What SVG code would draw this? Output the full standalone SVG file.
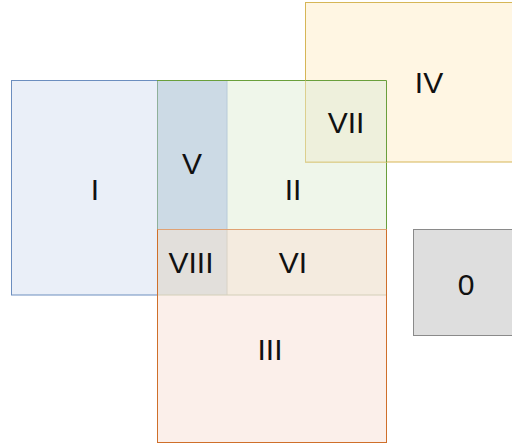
<svg xmlns="http://www.w3.org/2000/svg" width="512" height="446" viewBox="0 0 512 446">
<style>
text{font-family:"Liberation Sans",Arial,sans-serif;font-size:30px;fill:#111;text-anchor:middle}
</style>
<rect x="0" y="0" width="512" height="446" fill="#ffffff"/>
<g id="node-I">
<rect x="11.5" y="80.5" width="146" height="214.5" fill="#eaeff8" stroke="#6c8ebf"/>
<text x="95" y="200">I</text>
</g>
<g id="node-II">
<rect x="157.5" y="80.5" width="229" height="149" fill="#eff6ea" stroke="#6a9f3c"/>
<text x="293" y="200">II</text>
</g>
<g id="node-V">
<rect x="158" y="81" width="69" height="148.5" fill="#ccdae5"/>
<line x1="227" y1="81" x2="227" y2="229" stroke="#b8cad8"/>
<line x1="157.5" y1="81" x2="157.5" y2="229" stroke="#8fb09a"/>
<text x="192" y="174">V</text>
</g>
<g id="node-IV">
<rect x="305.5" y="2.5" width="210" height="159.5" fill="#fff6e3" stroke="#d6b656"/>
<text x="429" y="93">IV</text>
</g>
<g id="node-VII">
<rect x="306" y="80.5" width="80.5" height="81.5" fill="#eef0dc"/>
<path d="M305.5,80.5 V162 H386.5" fill="none" stroke="#dccf8e"/>
<path d="M305.5,80.5 H386.5 V162" fill="none" stroke="#6a9f3c"/>
<text x="346" y="133">VII</text>
</g>
<g id="node-III">
<rect x="157.5" y="229.5" width="229" height="213" fill="#fbefea" stroke="#cf6f2a"/>
<text x="270" y="360">III</text>
</g>
<g id="node-VI">
<rect x="227" y="230" width="159" height="65" fill="#f4ebdf"/>
<text x="293" y="273">VI</text>
</g>
<g id="node-VIII">
<rect x="158" y="230" width="69" height="65" fill="#e2dfdb"/>
<line x1="227" y1="230" x2="227" y2="295" stroke="#d8d2c6"/>
<line x1="158" y1="295" x2="386" y2="295" stroke="#d4cfb8"/>
<line x1="157.5" y1="229.5" x2="386.5" y2="229.5" stroke="#e0a274"/>
<text x="191" y="273">VIII</text>
</g>
<g id="node-0">
<rect x="413.5" y="229.5" width="102" height="106" fill="#dedede" stroke="#8a8a8a"/>
<text x="466" y="295">0</text>
</g>
<g id="connectors"></g>
</svg>
